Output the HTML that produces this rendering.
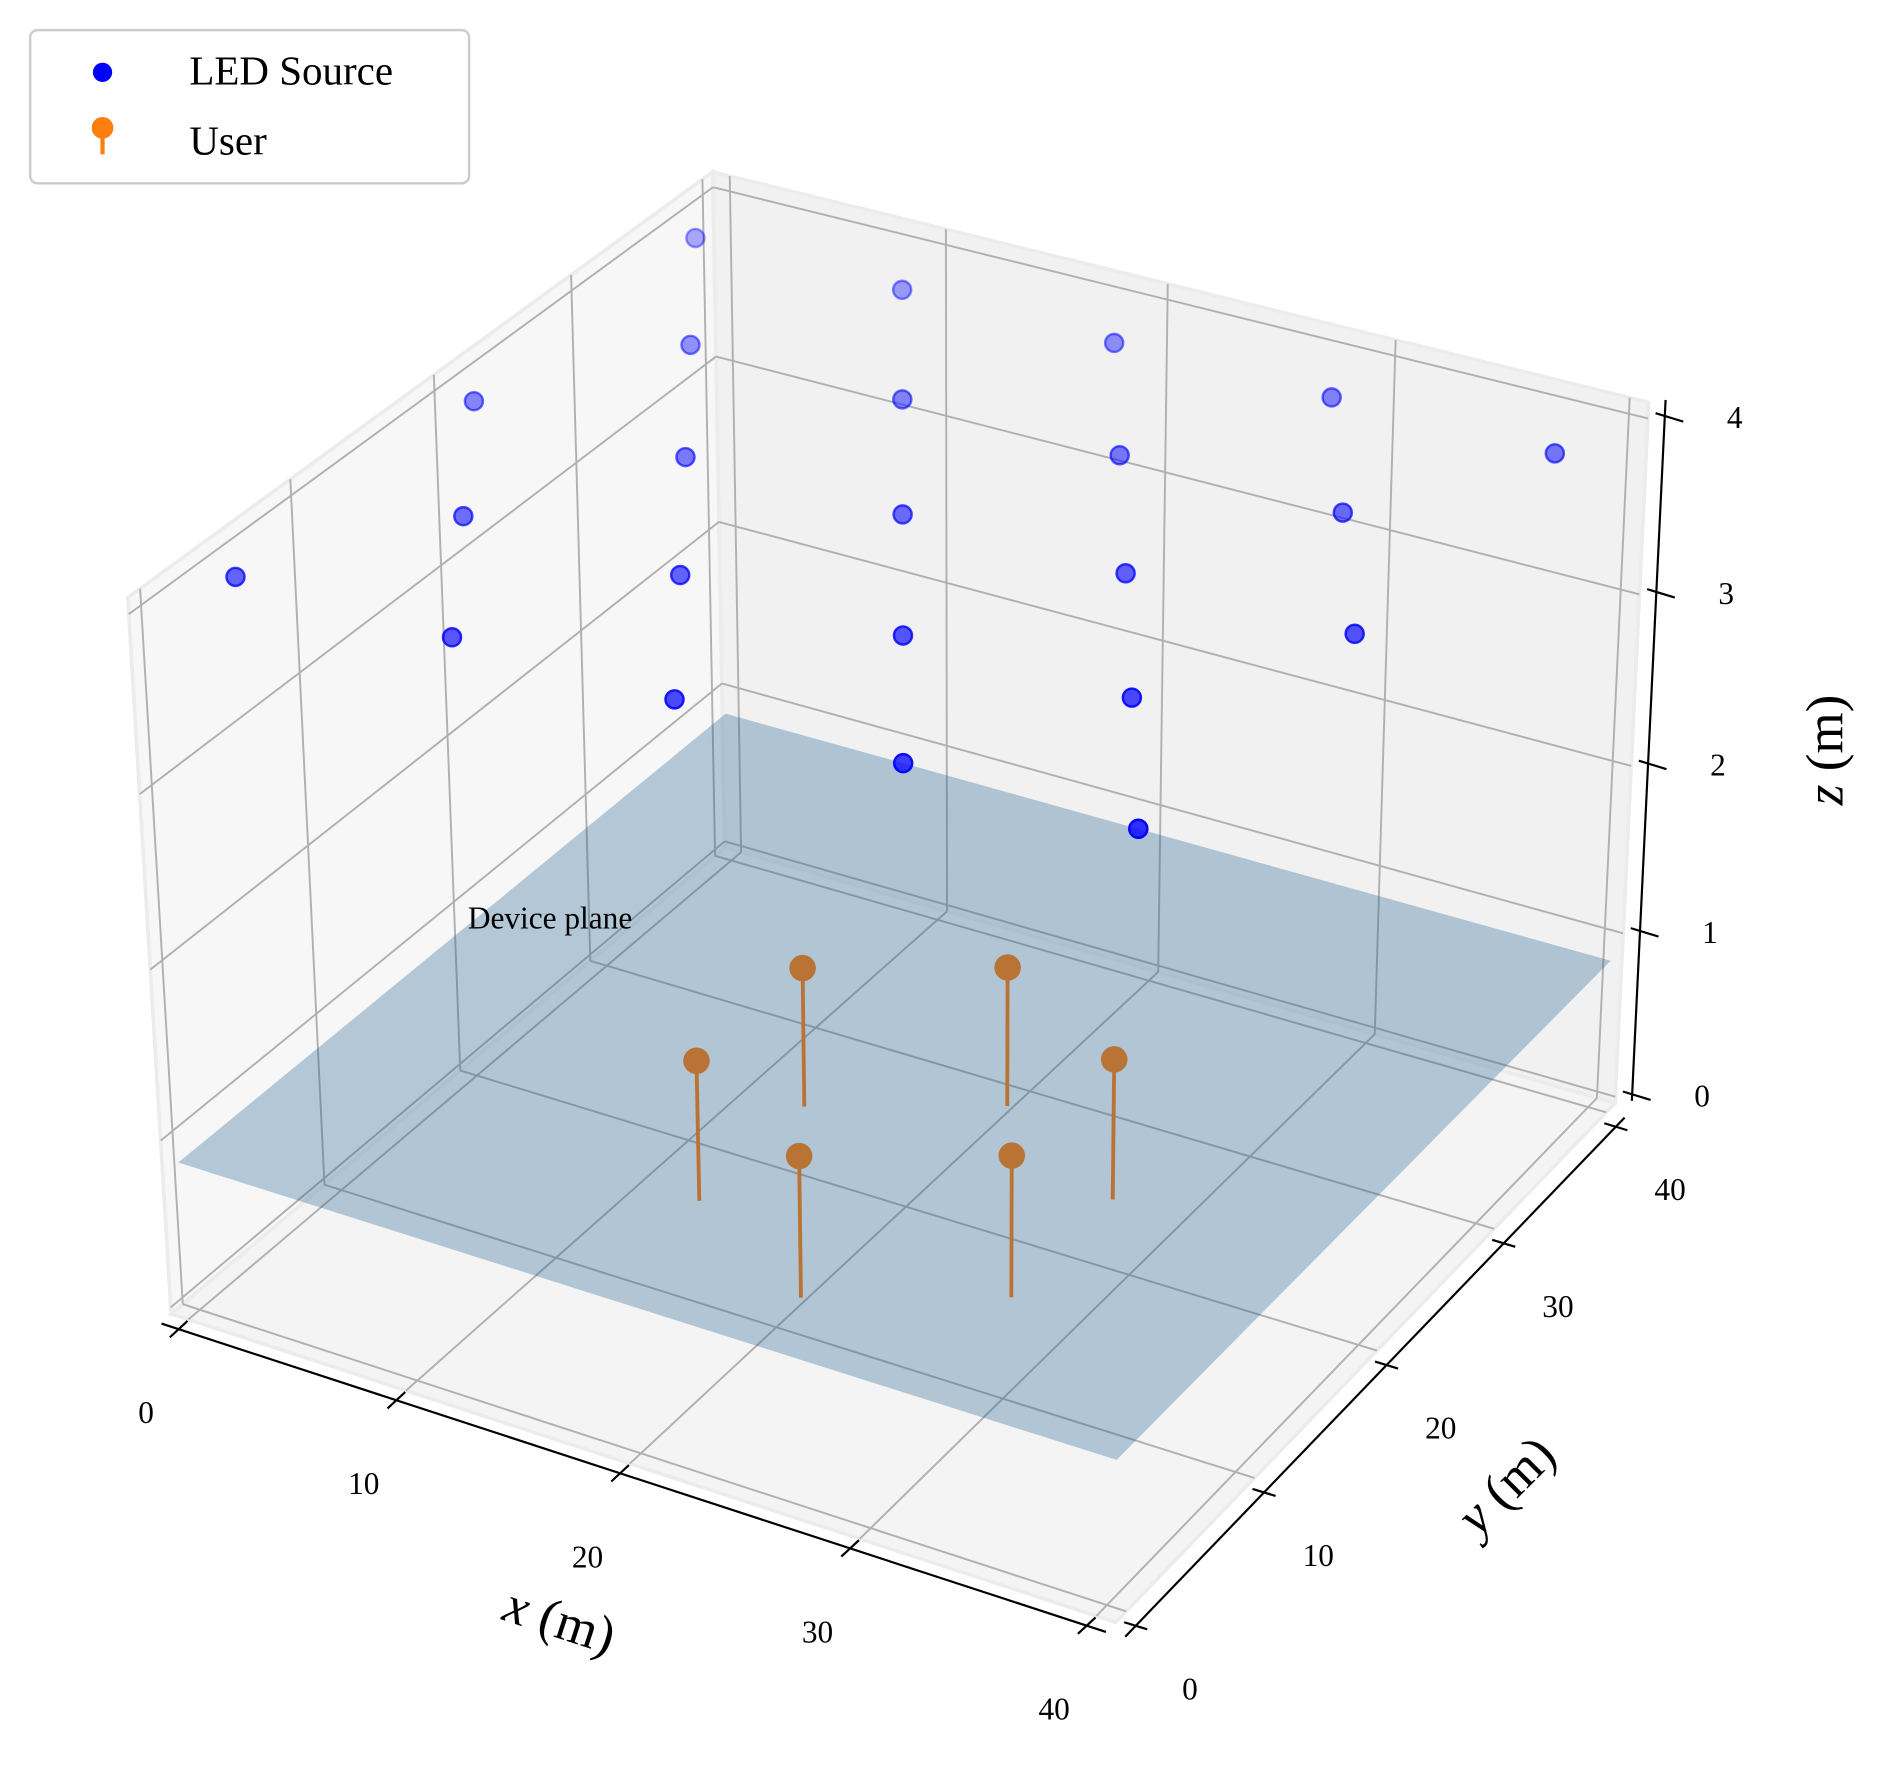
<!DOCTYPE html>
<html><head><meta charset="utf-8"><title>LED sources and users 3D</title>
<style>
html,body{margin:0;padding:0;background:#fff;}
svg{display:block;}
text{font-family:"Liberation Serif","DejaVu Serif",serif;fill:#000;}
</style></head>
<body>
<svg id="chart" width="1881" height="1770" viewBox="0 0 1560 1468" xmlns="http://www.w3.org/2000/svg">
<g id="panes"></g>
<g id="grid"></g>
<g id="axes"></g>
<g id="users"></g>
<g id="plane"></g>
<g id="leds"></g>
<g>
<rect x="25" y="25" width="364" height="127" rx="6" fill="#fff" fill-opacity="0.85" stroke="#cccccc" stroke-width="2"/>
<g>
<circle cx="85" cy="60" r="8" fill="#0000ff"/>
<text x="157" y="70" font-size="34">LED Source</text>
</g>
<g>
<line x1="85" y1="108" x2="85" y2="128" stroke="#ff7f0e" stroke-width="3.5"/>
<circle cx="85" cy="106" r="9" fill="#ff7f0e"/>
<text x="157" y="128" font-size="34">User</text>
</g>
</g>
</svg>
<script>
const xTicks=[0,10,20,30,40];
const yTicks=[0,10,20,30,40];
const zTicks=[0,1,2,3,4];
const ledX=[1,10.5,20,29.5,39, 5.75,15.25,24.75,34.25, 1,10.5,20,29.5,39, 5.75,15.25,24.75,34.25, 1,10.5,20,29.5,39];
const ledY=[3.55,3.55,3.55,3.55,3.55, 11.78,11.78,11.78,11.78, 20,20,20,20,20, 28.22,28.22,28.22,28.22, 36.45,36.45,36.45,36.45,36.45];
const ledZ=[4,4,4,4,4, 4,4,4,4, 4,4,4,4,4, 4,4,4,4, 4,4,4,4,4];
const userX=[20,27.04,27.04,20,12.96,12.96];
const userY=[11.87,15.93,24.07,28.13,24.07,15.93];
const userZ=[0.85,0.85,0.85,0.85,0.85,0.85];
const planeZ=0.85;
const planeX=[-0.4,40.5];
const planeY=[-0.3,40.4];

const NS="http://www.w3.org/2000/svg";
const XLO=-0.8,XHI=40.8,YLO=-0.8,YHI=40.8,ZLO=-0.04,ZHI=4.09;
const calib=[
 [XLO,YLO,ZLO,143,1088],[XHI,YLO,ZLO,927,1345],[XHI,YHI,ZLO,1340,917],[XLO,YHI,ZLO,598,703],
 [XLO,YLO,ZHI,103,498],[XLO,YHI,ZHI,596,142],[XHI,YHI,ZHI,1365,332]];
function nrm(x,y,z){return [(x-20)/20,(y-20)/20,(z-2)/2];}
function solveCam(){
  const rows=[],rhs=[];
  calib.forEach(c=>{const [X,Y,Z]=nrm(c[0],c[1],c[2]);const u=c[3],v=c[4];
    rows.push([X,Y,Z,1,0,0,0,0,-u*X,-u*Y,-u*Z]);rhs.push(u);
    rows.push([0,0,0,0,X,Y,Z,1,-v*X,-v*Y,-v*Z]);rhs.push(v);});
  const n=11,M=[];
  for(let i=0;i<n;i++){M.push(new Array(n+1).fill(0));
    for(let j=0;j<n;j++){let s=0;for(let r=0;r<rows.length;r++)s+=rows[r][i]*rows[r][j];M[i][j]=s;}
    let s=0;for(let r=0;r<rows.length;r++)s+=rows[r][i]*rhs[r];M[i][n]=s;}
  for(let i=0;i<n;i++){M[i][i]+=1e-6;}
  for(let c=0;c<n;c++){let p=c;for(let r=c+1;r<n;r++)if(Math.abs(M[r][c])>Math.abs(M[p][c]))p=r;
    [M[c],M[p]]=[M[p],M[c]];
    for(let r=0;r<n;r++){if(r===c)continue;const f=M[r][c]/M[c][c];for(let k=c;k<=n;k++)M[r][k]-=f*M[c][k];}}
  return M.map((r,i)=>r[n]/r[i]);
}
const P=solveCam();
function proj(x,y,z){const [X,Y,Z]=nrm(x,y,z);
  const w=P[8]*X+P[9]*Y+P[10]*Z+1;
  return [(P[0]*X+P[1]*Y+P[2]*Z+P[3])/w,(P[4]*X+P[5]*Y+P[6]*Z+P[7])/w,w];}
function mk(parent,tag,attrs){const e=document.createElementNS(NS,tag);for(const k in attrs)e.setAttribute(k,attrs[k]);parent.appendChild(e);return e;}
function poly(pts){return pts.map(p=>{const q=proj(p[0],p[1],p[2]);return q[0].toFixed(1)+","+q[1].toFixed(1);}).join(" ");}

const gP=document.getElementById('panes');
let e;
e=mk(gP,'polygon',{points:poly([[XLO,YLO,ZLO],[XLO,YHI,ZLO],[XLO,YHI,ZHI],[XLO,YLO,ZHI]]),fill:'#f7f7f7',stroke:'#ececec','stroke-width':3});


e=mk(gP,'polygon',{points:poly([[XLO,YHI,ZLO],[XHI,YHI,ZLO],[XHI,YHI,ZHI],[XLO,YHI,ZHI]]),fill:'#f1f1f1',stroke:'#ececec','stroke-width':3});


e=mk(gP,'polygon',{points:poly([[XLO,YLO,ZLO],[XHI,YLO,ZLO],[XHI,YHI,ZLO],[XLO,YHI,ZLO]]),fill:'#f4f4f4',stroke:'#ececec','stroke-width':3});



const gG=document.getElementById('grid');
function gl(a,b,name){const p=proj(...a),q=proj(...b);
  const l=mk(gG,'line',{x1:p[0],y1:p[1],x2:q[0],y2:q[1],stroke:'#b0b0b0','stroke-width':1.6});
  
  }
xTicks.forEach(x=>{gl([x,YLO,ZLO],[x,YHI,ZLO],'x-gridline-floor');gl([x,YHI,ZLO],[x,YHI,ZHI],'x-gridline-back');});
yTicks.forEach(y=>{gl([XLO,y,ZLO],[XHI,y,ZLO],'y-gridline-floor');gl([XLO,y,ZLO],[XLO,y,ZHI],'y-gridline-left');});
zTicks.forEach(z=>{gl([XLO,YLO,z],[XLO,YHI,z],'z-gridline-left');gl([XLO,YHI,z],[XHI,YHI,z],'z-gridline-back');});

const gA=document.getElementById('axes');
function unit(a,b){const p=proj(...a),q=proj(...b);const dx=q[0]-p[0],dy=q[1]-p[1],L=Math.hypot(dx,dy);return [dx/L,dy/L];}
function axis(name,a,b,off,ticks,tf,tdir,tin,tout,lab,labOff){
  const p=proj(...a),q=proj(...b);
  const l=mk(gA,'line',{x1:p[0]+off[0],y1:p[1]+off[1],x2:q[0]+off[0],y2:q[1]+off[1],stroke:'#000','stroke-width':1.8});
  
  
  ticks.forEach(t=>{const r=proj(...tf(t));const cx=r[0]+off[0],cy=r[1]+off[1];
    const tk=mk(gA,'line',{x1:cx-tdir[0]*tin,y1:cy-tdir[1]*tin,x2:cx+tdir[0]*tout,y2:cy+tdir[1]*tout,stroke:'#000','stroke-width':1.8});
    
    
    const tx=mk(gA,'text',{x:cx+labOff[0],y:cy+labOff[1],'font-size':26,'text-anchor':'middle','dominant-baseline':'middle'});
    tx.textContent=String(t);
    
    });
}
const ydir=unit([20,0,0],[20,40,0]);
const xdir=unit([0,20,0],[40,20,0]);
axis('x',[XLO,YLO,ZLO],[XHI,YLO,ZLO],[-8,8],xTicks,t=>[t,YLO,ZLO],[-ydir[0],-ydir[1]],10,10,null,[-27,72]);
axis('y',[XHI,YLO,ZLO],[XHI,YHI,ZLO],[8,12],yTicks,t=>[XHI,t,ZLO],xdir,10,10,null,[45,55]);
axis('z',[XHI,YHI,ZLO],[XHI,YHI,ZHI],[14,-2],zTicks,t=>[XHI,YHI,t],xdir,8,16,null,[58,4]);

function title(txt,x,y,rot,name){const t=mk(gA,'text',{x:x,y:y,'font-size':44,'text-anchor':'middle','dominant-baseline':'middle',transform:'rotate('+rot+' '+x+' '+y+')'});
  t.innerHTML=txt;
  
  }
title('<tspan font-style="italic">x</tspan> (m)',463,1348,18,'x-axis-title');
title('<tspan font-style="italic">y</tspan> (m)',1252,1235,-45,'y-axis-title');
title('<tspan font-style="italic">z</tspan> (m)',1518,622,-90,'z-axis-title');

const gU=document.getElementById('users');
userX.forEach((x,i)=>{const b=proj(x,userY[i],0),h=proj(x,userY[i],userZ[i]);
  const s=mk(gU,'line',{x1:b[0],y1:b[1],x2:h[0],y2:h[1],stroke:'#ff7f0e','stroke-width':3.2});
  
  
  const c=mk(gU,'circle',{cx:h[0],cy:h[1],r:11,fill:'#ff7f0e'});
  
  });

const gPl=document.getElementById('plane');
const pl=mk(gPl,'polygon',{points:poly([[planeX[0],planeY[0],planeZ],[planeX[1],planeY[0],planeZ],[planeX[1],planeY[1],planeZ],[planeX[0],planeY[1],planeZ]]),fill:'rgb(22,89,142)','fill-opacity':0.3});


const dl=mk(gPl,'text',{x:388,y:770,'font-size':26,fill:'#15233a'});
dl.textContent='Device plane';



const gL=document.getElementById('leds');
const near=proj(40,0,0)[2],far=proj(0,40,0)[2];
const sign=far>near?1:-1;
const ws=ledX.map((x,i)=>sign*proj(x,ledY[i],ledZ[i])[2]);
const wmin=Math.min(...ws),wmax=Math.max(...ws);
const order=ledX.map((_,i)=>i).sort((a,b)=>ws[b]-ws[a]);
order.forEach(i=>{const p=proj(ledX[i],ledY[i],ledZ[i]);
  const a=1-0.6*(ws[i]-wmin)/(wmax-wmin||1);
  const c=mk(gL,'circle',{cx:p[0],cy:p[1],r:7.5,fill:'#0000ff','fill-opacity':a*0.8,stroke:'#0000ff','stroke-opacity':a,'stroke-width':2});
  
  });
</script>
</body></html>
